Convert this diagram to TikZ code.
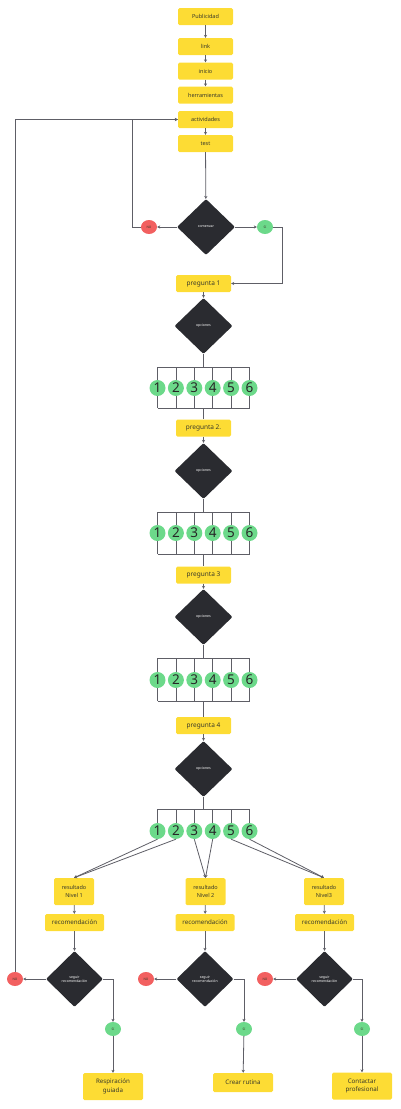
\documentclass[tikz,border=0pt]{standalone}
\usepackage{fontspec}
\setmainfont{Noto Sans}
\usetikzlibrary{shapes.geometric,arrows.meta,calc}
\definecolor{ybox}{HTML}{FDDC34}
\definecolor{dkd}{HTML}{2A2B30}
\definecolor{gno}{HTML}{6CD98A}
\definecolor{rno}{HTML}{F26060}
\definecolor{lnc}{HTML}{5E5E66}
\definecolor{txt}{HTML}{3A3A2A}
\begin{document}
\begin{tikzpicture}[x=1pt,y=-1pt,
  ybx/.style={fill=ybox,rounded corners=1.5pt,inner sep=0pt,align=center,text=txt,minimum height=17pt},
  top/.style={ybx,minimum width=55pt,font=\fontsize{5.5}{6.5}\selectfont},
  preg/.style={ybx,minimum width=55pt,font=\fontsize{6.5}{7.5}\selectfont},
  res/.style={ybx,minimum width=40pt,minimum height=27pt,font=\fontsize{5.5}{8}\selectfont},
  reco/.style={ybx,minimum width=59pt,font=\fontsize{6.2}{7}\selectfont},
  fin/.style={ybx,minimum width=60pt,font=\fontsize{6.2}{8.5}\selectfont},
  dia/.style={diamond,fill=dkd,inner sep=0pt,minimum width=58pt,minimum height=56pt,rounded corners=1pt,text=white,align=center,font=\fontsize{3.5}{4.2}\selectfont},
  nob/.style={ellipse,fill=rno,inner sep=0pt,minimum width=16pt,minimum height=14pt,font=\fontsize{3.2}{4}\selectfont,text=txt},
  sib/.style={ellipse,fill=gno,inner sep=0pt,minimum width=16pt,minimum height=14pt,font=\fontsize{3.2}{4}\selectfont,text=txt},
  opt/.style={circle,fill=gno,inner sep=0pt,minimum size=16pt,font=\fontsize{13.5}{14}\selectfont,text=black!85},
  ln/.style={draw=lnc,line width=0.8pt},
  arr/.style={ln,-{Stealth[length=3pt,width=3.2pt]}}
]
\useasboundingbox (0,0) rectangle (400,1109);
% top chain
\node[top] (pub) at (205.5,16.5) {Publicidad};
\node[top] (lnk) at (205.5,46.5) {link};
\node[top] (ini) at (205.5,71) {inicio};
\node[top] (her) at (205.5,95) {herramientas};
\node[top] (act) at (205.5,119.5) {actividades};
\node[top] (tst) at (205.5,143.5) {test};
\draw[arr] (pub) -- (lnk);
\draw[arr] (lnk) -- (ini);
\draw[arr] (ini) -- (her);
\draw[arr] (act) -- (tst);
\node[dia] (com) at (206,227) {comenzar};
\draw[arr] (tst) -- (com);
\node[nob] (no0) at (149,227) {NO};
\node[sib] (si0) at (265,227) {SI};
\draw[arr] (com) -- (no0);
\draw[arr] (com) -- (si0);
\coordinate (lp) at (132,227);
\draw[arr] (no0.west) -- (lp) |- (act.west);
\coordinate (rp) at (282,227);
% sections
\foreach \s/\py/\dy/\tb/\cy in {1/283.5/326/367/388, 2/428/471/512/533, 3/575/617/658/680, 4/725.5/769/809/831}{
  \node[preg] (p\s) at (203.5,\py) {\ifnum\s=2 pregunta 2.\else pregunta \s\fi};
  \node[dia] (d\s) at (203.5,\dy) {opciones};
  \draw[arr] (p\s) -- (d\s);
  \foreach \i in {1,...,6}{
    \node[opt] (o\s\i) at ({157.5+18.4*(\i-1)},\cy) {\i};
    \draw[ln] (o\s\i.north) -- (o\s\i.north |- 0,\tb);
  }
  \draw[ln] (d\s.south) -- (203.5,\tb);
  \draw[ln] (157.5,\tb) -- (249.5,\tb);
}
\draw[arr] (si0.east) -- (rp) |- (p1.east);
\foreach \s/\bb/\n in {1/408/2, 2/554/3, 3/701/4}{
  \foreach \i in {1,...,6}{
    \draw[ln] (o\s\i.south) -- (o\s\i.south |- 0,\bb);
  }
  \draw[ln] (157.5,\bb) -- (249.5,\bb);
  \draw[ln] (203.5,\bb) -- (p\n.north);
}
% results
\node[res] (r1) at (74,891.5) {resultado\\Nivel 1};
\node[res] (r2) at (205.5,891.5) {resultado\\Nivel 2};
\node[res] (r3) at (324,891.5) {resultado\\Nivel3};
\draw[arr] (o41.south) -- (r1.north);
\draw[arr] (o42.south) -- (r1.north);
\draw[arr] (o43.south) -- (r2.north);
\draw[arr] (o44.south) -- (r2.north);
\draw[arr] (o45.south) -- (r3.north);
\draw[arr] (o46.south) -- (r3.north);
\foreach \k/\x/\nx/\sx in {1/74.5/15/113, 2/205/146/244, 3/324.5/265/362}{
  \node[reco] (c\k) at (\x,922.5) {recomendación};
  \node[dia,minimum width=57pt] (s\k) at (\x,979) {seguir\\recomendación};
  \node[nob] (n\k) at (\nx,979) {NO};
  \node[sib] (y\k) at (\sx,1029) {SI};
  \draw[arr] (r\k) -- (c\k);
  \draw[arr] (c\k) -- (s\k);
  \draw[arr] (s\k) -- (n\k);
  \draw[arr] (s\k.east) -| (y\k.north);
}
\node[fin,minimum height=27pt] (f1) at (113,1086.5) {Respiración\\guiada};
\node[fin,minimum height=19pt] (f2) at (243,1082.5) {Crear rutina};
\node[fin,minimum height=27pt] (f3) at (362,1086) {Contactar\\profesional};
\draw[arr] (y1) -- (f1);
\draw[arr] (y2) -- (f2);
\draw[arr] (y3) -- (f3);
\draw[arr] (n1.north) |- (act.west);
\end{tikzpicture}
\end{document}
